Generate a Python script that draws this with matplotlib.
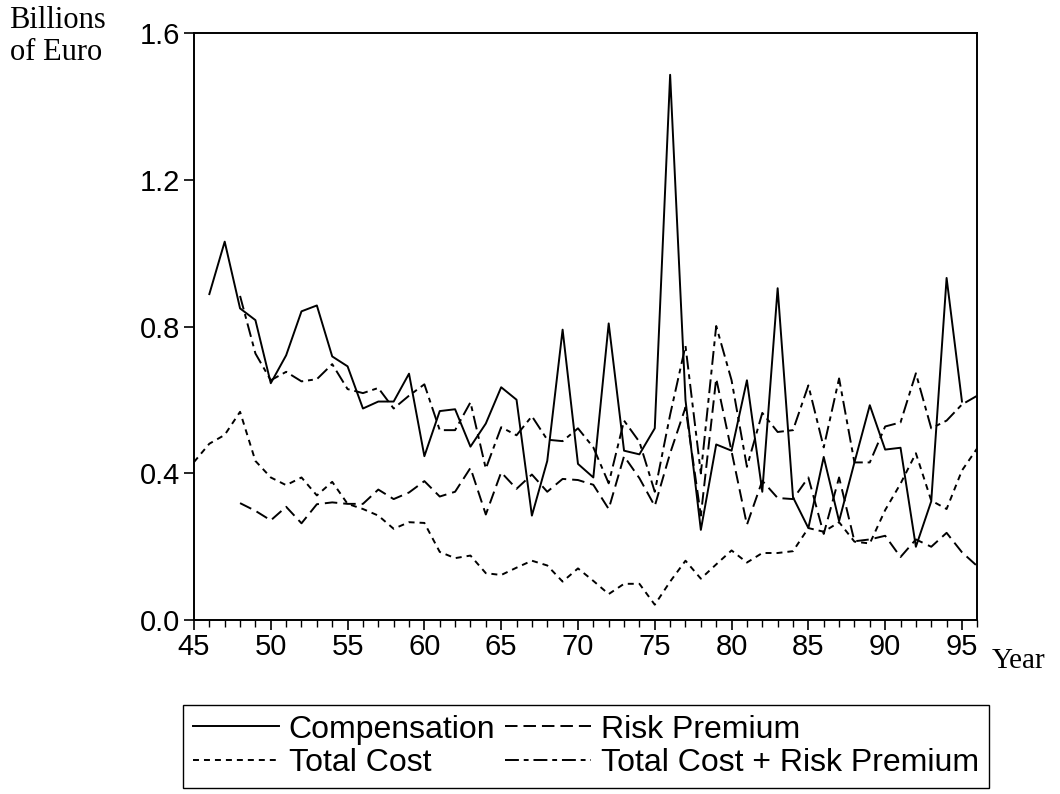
import matplotlib
matplotlib.use("Agg")
import matplotlib.pyplot as plt
from matplotlib.ticker import MultipleLocator

# values (billions of euro)
yrs_comp = list(range(46, 96))
compensation = [0.889, 1.032, 0.850, 0.818, 0.646, 0.722, 0.842, 0.858, 0.719, 0.692,
                0.577, 0.596, 0.596, 0.672, 0.447, 0.570, 0.575, 0.473, 0.536, 0.635,
                0.601, 0.285, 0.434, 0.792, 0.426, 0.389, 0.809, 0.462, 0.452, 0.523,
                1.487, 0.600, 0.246, 0.479, 0.462, 0.654, 0.350, 0.905, 0.335, 0.251,
                0.445, 0.270, 0.430, 0.586, 0.465, 0.470, 0.200, 0.324, 0.933, 0.596]

yrs_tc = list(range(45, 97))
total_cost = [0.431, 0.481, 0.505, 0.568, 0.434, 0.389, 0.368, 0.389, 0.340, 0.377,
              0.317, 0.303, 0.285, 0.249, 0.267, 0.265, 0.186, 0.169, 0.176, 0.128,
              0.123, 0.143, 0.162, 0.149, 0.105, 0.141, 0.107, 0.071, 0.099, 0.099,
              0.042, 0.105, 0.162, 0.113, 0.152, 0.190, 0.157, 0.183, 0.183, 0.188,
              0.251, 0.241, 0.267, 0.214, 0.209, 0.300, 0.372, 0.455, 0.326, 0.303,
              0.408, 0.469]

yrs_rp = list(range(48, 97))
risk_premium = [0.319, 0.298, 0.272, 0.309, 0.264, 0.316, 0.321, 0.317, 0.317, 0.356,
                0.330, 0.348, 0.379, 0.337, 0.350, 0.415, 0.288, 0.403, 0.358, 0.397,
                0.350, 0.385, 0.382, 0.369, 0.303, 0.447, 0.387, 0.311, 0.455, 0.580,
                0.285, 0.659, 0.460, 0.260, 0.380, 0.333, 0.330, 0.389, 0.235, 0.389,
                0.215, 0.220, 0.230, 0.172, 0.220, 0.200, 0.238, 0.185, 0.147]

tc_plus_rp = [0.884, 0.727, 0.654, 0.677, 0.651, 0.657, 0.698, 0.630, 0.619, 0.633,
              0.577, 0.612, 0.643, 0.518, 0.518, 0.594, 0.413, 0.526, 0.504, 0.556,
              0.492, 0.488, 0.523, 0.471, 0.373, 0.544, 0.486, 0.350, 0.560, 0.748,
              0.400, 0.802, 0.654, 0.418, 0.565, 0.513, 0.518, 0.640, 0.471, 0.659,
              0.430, 0.430, 0.528, 0.539, 0.673, 0.523, 0.544, 0.588, 0.612]

plt.rcParams['lines.scale_dashes'] = False
sans = ['Liberation Sans', 'DejaVu Sans']
serif = ['Liberation Serif', 'DejaVu Serif']
plt.rcParams['font.family'] = sans

fig = plt.figure(figsize=(10.6, 7.94), dpi=100)
ax = fig.add_axes([0.183, 0.219, 0.739, 0.739])

lw = 1.4
h1, = ax.plot(yrs_comp, compensation, color='black', lw=lw, ls='-')
h2, = ax.plot(yrs_tc, total_cost, color='black', lw=lw, ls=(0, (4.3, 3.6)))
h3, = ax.plot(yrs_rp, risk_premium, color='black', lw=lw, ls=(0, (9, 4.3)))
h4, = ax.plot(yrs_rp, tc_plus_rp, color='black', lw=lw, ls=(0, (10, 3.5, 3.5, 3.5)))

ax.set_xlim(45, 96)
ax.set_ylim(0, 1.6)
ax.xaxis.set_major_locator(MultipleLocator(5))
ax.xaxis.set_minor_locator(MultipleLocator(1))
ax.yaxis.set_major_locator(MultipleLocator(0.4))
ax.set_yticklabels([f"{v:.1f}" for v in ax.get_yticks()])
ax.tick_params(axis='both', which='major', direction='out', length=7, width=1.2,
               labelsize=21, colors='black')
ax.tick_params(axis='x', which='minor', direction='out', length=5, width=1.0)
ax.tick_params(axis='x', pad=2)
ax.tick_params(axis='y', pad=3)
for s in ax.spines.values():
    s.set_linewidth(1.4)

fig.text(0.009, 0.993, "Billions\nof Euro", family=serif, fontsize=22,
         va='top', ha='left', linespacing=1.15)
fig.text(0.936, 0.168, "Year", family=serif, fontsize=21, va='center', ha='left')

leg = fig.legend([h1, h2, h3, h4],
                 ["Compensation", "Total Cost", "Risk Premium", "Total Cost + Risk Premium"],
                 loc='upper left', bbox_to_anchor=(0.173, 0.112),
                 ncol=2, fontsize=23, handlelength=2.7, handletextpad=0.3,
                 columnspacing=0.3, labelspacing=0.12, borderaxespad=0,
                 borderpad=0.3, fancybox=False, framealpha=1, edgecolor='black')
leg.get_frame().set_linewidth(1.0)

fig.savefig("out.png", dpi=100)
